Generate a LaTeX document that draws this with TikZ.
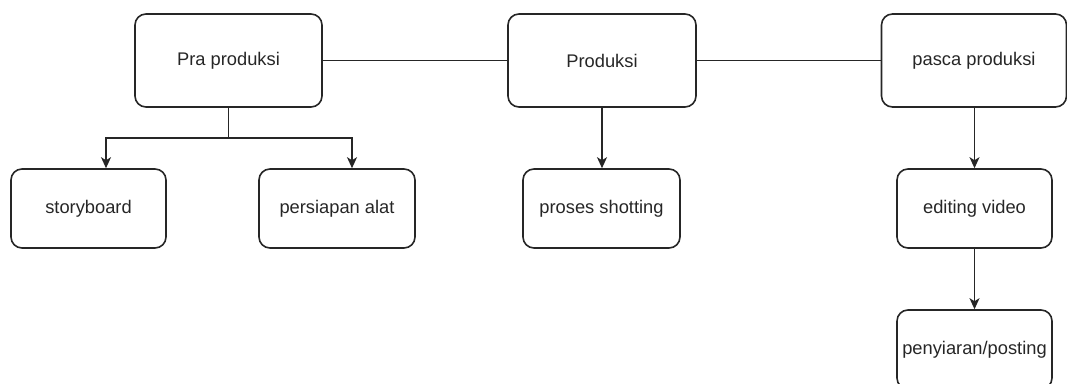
\documentclass[tikz,border=0pt]{standalone}
\usepackage{fontspec}
\setmainfont{Liberation Sans}
\usetikzlibrary{arrows.meta}
\begin{document}
\begin{tikzpicture}[x=1pt,y=-1pt,
  box/.style={draw=black!85, line width=1.6pt, rounded corners=11pt, minimum width=#1, inner sep=0pt, font=\fontsize{18.3}{20}\selectfont, text=black!85},
  box/.default=187pt,
  link/.style={line width=1.6pt, draw=black!85},
  arr/.style={link, -{Stealth[length=11pt,width=10pt,inset=3pt]}}]
\useasboundingbox (0,0) rectangle (1067,383);
\node[box=187pt, minimum height=93pt] (pra) at (228.5,60.5) {Pra produksi};
\node[box=188pt, minimum height=93pt] (prod) at (602,60.5) {Produksi};
\node[box=185pt, minimum height=93pt] (pasca) at (974,60.5) {pasca produksi};
\node[box=155pt, minimum height=79pt] (story) at (88.5,208.5) {storyboard};
\node[box=156pt, minimum height=79pt] (alat) at (337,208.5) {persiapan alat};
\node[box=157pt, minimum height=79pt] (shot) at (601.5,208.5) {proses shotting};
\node[box=155pt, minimum height=79pt] (edit) at (974.5,208.5) {editing video};
\node[box=155pt, minimum height=79pt] (post) at (974.5,349.5) {penyiaran/posting};
\coordinate (split) at (228.5,138);
\draw[link] (pra.east) -- (prod.west);
\draw[link] (prod.east) -- (pasca.west);
\draw[link] (pra.south) -- (split);
\draw[arr] (split) -| (story.north -| 106,0);
\draw[arr] (split) -| (alat.north -| 352,0);
\draw[arr] (prod.south) -- (shot.north -| prod.south);
\draw[arr] (pasca.south -| edit.north) -- (edit.north);
\draw[arr] (edit.south) -- (post.north);
\end{tikzpicture}
\end{document}
